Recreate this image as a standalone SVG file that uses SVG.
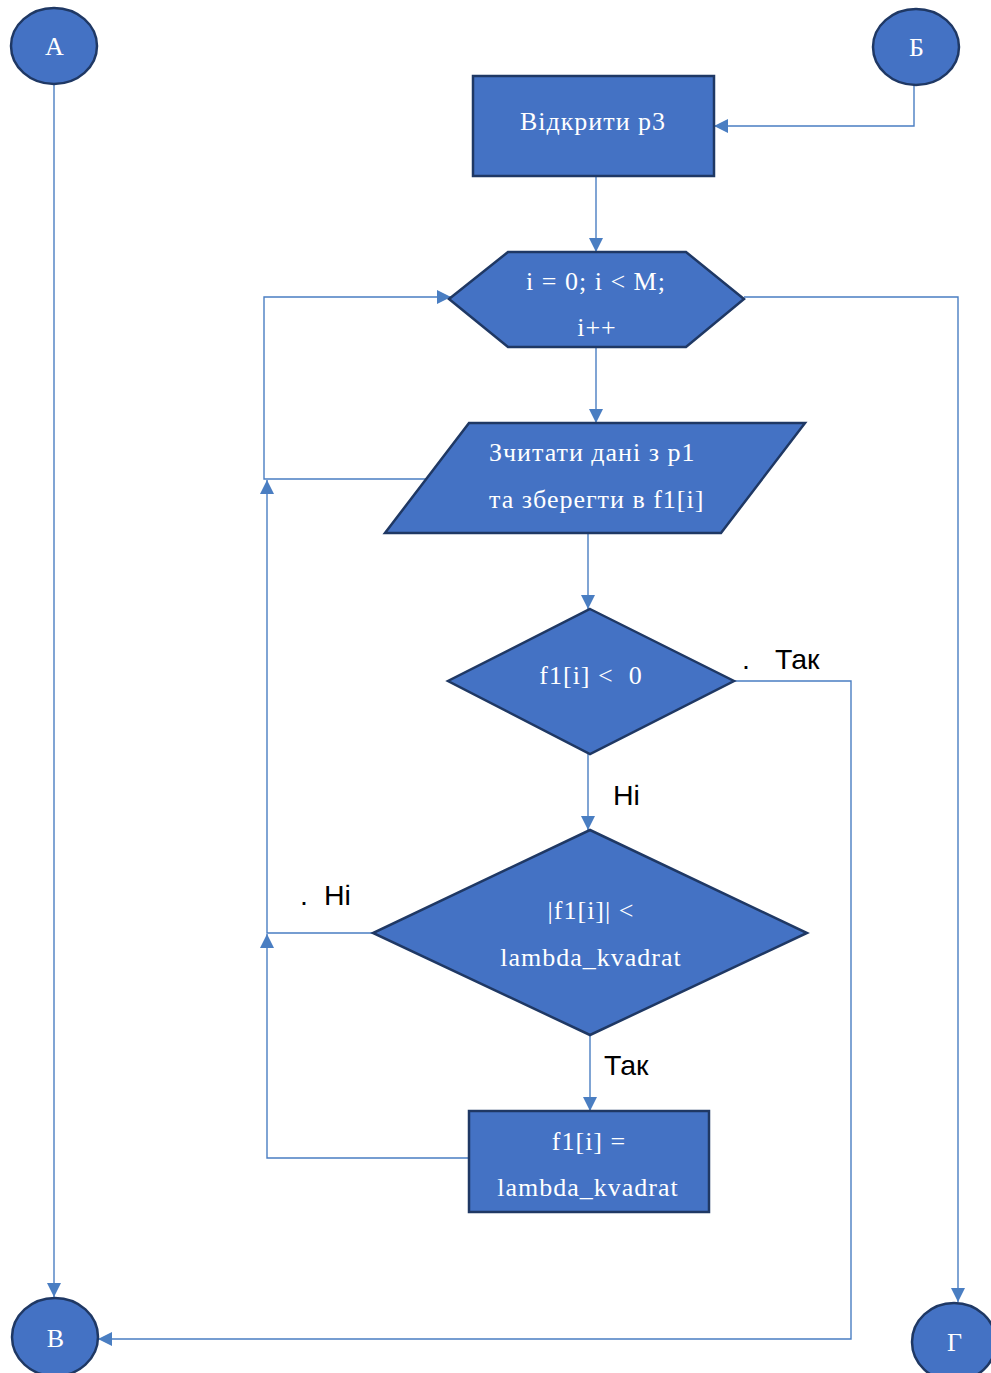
<svg xmlns="http://www.w3.org/2000/svg" width="991" height="1373" viewBox="0 0 991 1373">
<style>
.n{fill:#4472C4;stroke:#1F3864;stroke-width:2.5}
.t{font-family:"Liberation Serif",serif;font-size:26px;fill:#fff;text-anchor:middle;letter-spacing:1px;white-space:pre}
.tl{font-family:"Liberation Serif",serif;font-size:26px;fill:#fff;letter-spacing:1px;white-space:pre}
.c{fill:none;stroke:#4A7EC2;stroke-width:1.4}
.lb{font-family:"Liberation Sans",sans-serif;font-size:28.5px;fill:#000}
</style>
<defs>
<marker id="ar" viewBox="0 0 10 10" refX="10" refY="5" markerWidth="14" markerHeight="14" markerUnits="userSpaceOnUse" orient="auto">
<path d="M0,0 L10,5 L0,10 Z" fill="#4A7EC2"/>
</marker>
</defs>
<g id="connectors">
<path class="c" d="M54,84 V1297" marker-end="url(#ar)"/>
<path class="c" d="M914,85 V126 H714" marker-end="url(#ar)"/>
<path class="c" d="M596,176 V252" marker-end="url(#ar)"/>
<path class="c" d="M596,347 V423" marker-end="url(#ar)"/>
<path class="c" d="M428,479 H264 V297 H451" marker-end="url(#ar)"/>
<path class="c" d="M744,297 H958 V1302" marker-end="url(#ar)"/>
<path class="c" d="M588,533 V609" marker-end="url(#ar)"/>
<path class="c" d="M734,681 H851 V1339 H98" marker-end="url(#ar)"/>
<path class="c" d="M588,754 V830" marker-end="url(#ar)"/>
<path class="c" d="M373,933 H267 V480" marker-end="url(#ar)"/>
<path class="c" d="M590,1035 V1111" marker-end="url(#ar)"/>
<path class="c" d="M469,1158 H267 V934" marker-end="url(#ar)"/>
</g>
<g id="A"><ellipse class="n" cx="54" cy="46" rx="43" ry="38"/><text class="t" x="55" y="55">A</text></g>
<g id="B_cyr"><ellipse class="n" cx="916" cy="47" rx="43" ry="38"/><text class="t" x="917" y="56">Б</text></g>
<g id="V"><ellipse class="n" cx="55" cy="1337" rx="43" ry="39"/><text class="t" x="56" y="1347">В</text></g>
<g id="G"><ellipse class="n" cx="954" cy="1342" rx="42" ry="39"/><text class="t" x="955" y="1351">Г</text></g>
<g id="open"><rect class="n" x="473" y="76" width="241" height="100"/><text class="t" x="593" y="130">Відкрити p3</text></g>
<g id="loop"><polygon class="n" points="449,299 508,252 686,252 744,299 686,347 508,347"/><text class="t" x="596" y="290">i = 0; i &lt; M;</text><text class="t" x="597" y="336">i++</text></g>
<g id="read"><polygon class="n" points="469,423 805,423 721,533 385,533"/><text class="tl" x="489" y="461">Зчитати дані з p1</text><text class="tl" x="489" y="508">та зберегти в f1[i]</text></g>
<g id="cond1"><polygon class="n" points="590,609 734,681 590,754 448,681"/><text class="t" x="591" y="684">f1[i] &lt;  0</text></g>
<g id="cond2"><polygon class="n" points="590,830 807,933 590,1035 373,933"/><text class="t" x="591" y="919">|f1[i]| &lt;</text><text class="t" x="591" y="966">lambda_kvadrat</text></g>
<g id="assign"><rect class="n" x="469" y="1111" width="240" height="101"/><text class="t" x="589" y="1150">f1[i] =</text><text class="t" x="588" y="1196">lambda_kvadrat</text></g>
<g id="labels">
<text class="lb" x="742" y="669">.</text><text class="lb" x="775" y="669">Так</text>
<text class="lb" x="613" y="805">Ні</text>
<text class="lb" x="300" y="905">.</text><text class="lb" x="324" y="905">Ні</text>
<text class="lb" x="604" y="1075">Так</text>
</g>
</svg>
